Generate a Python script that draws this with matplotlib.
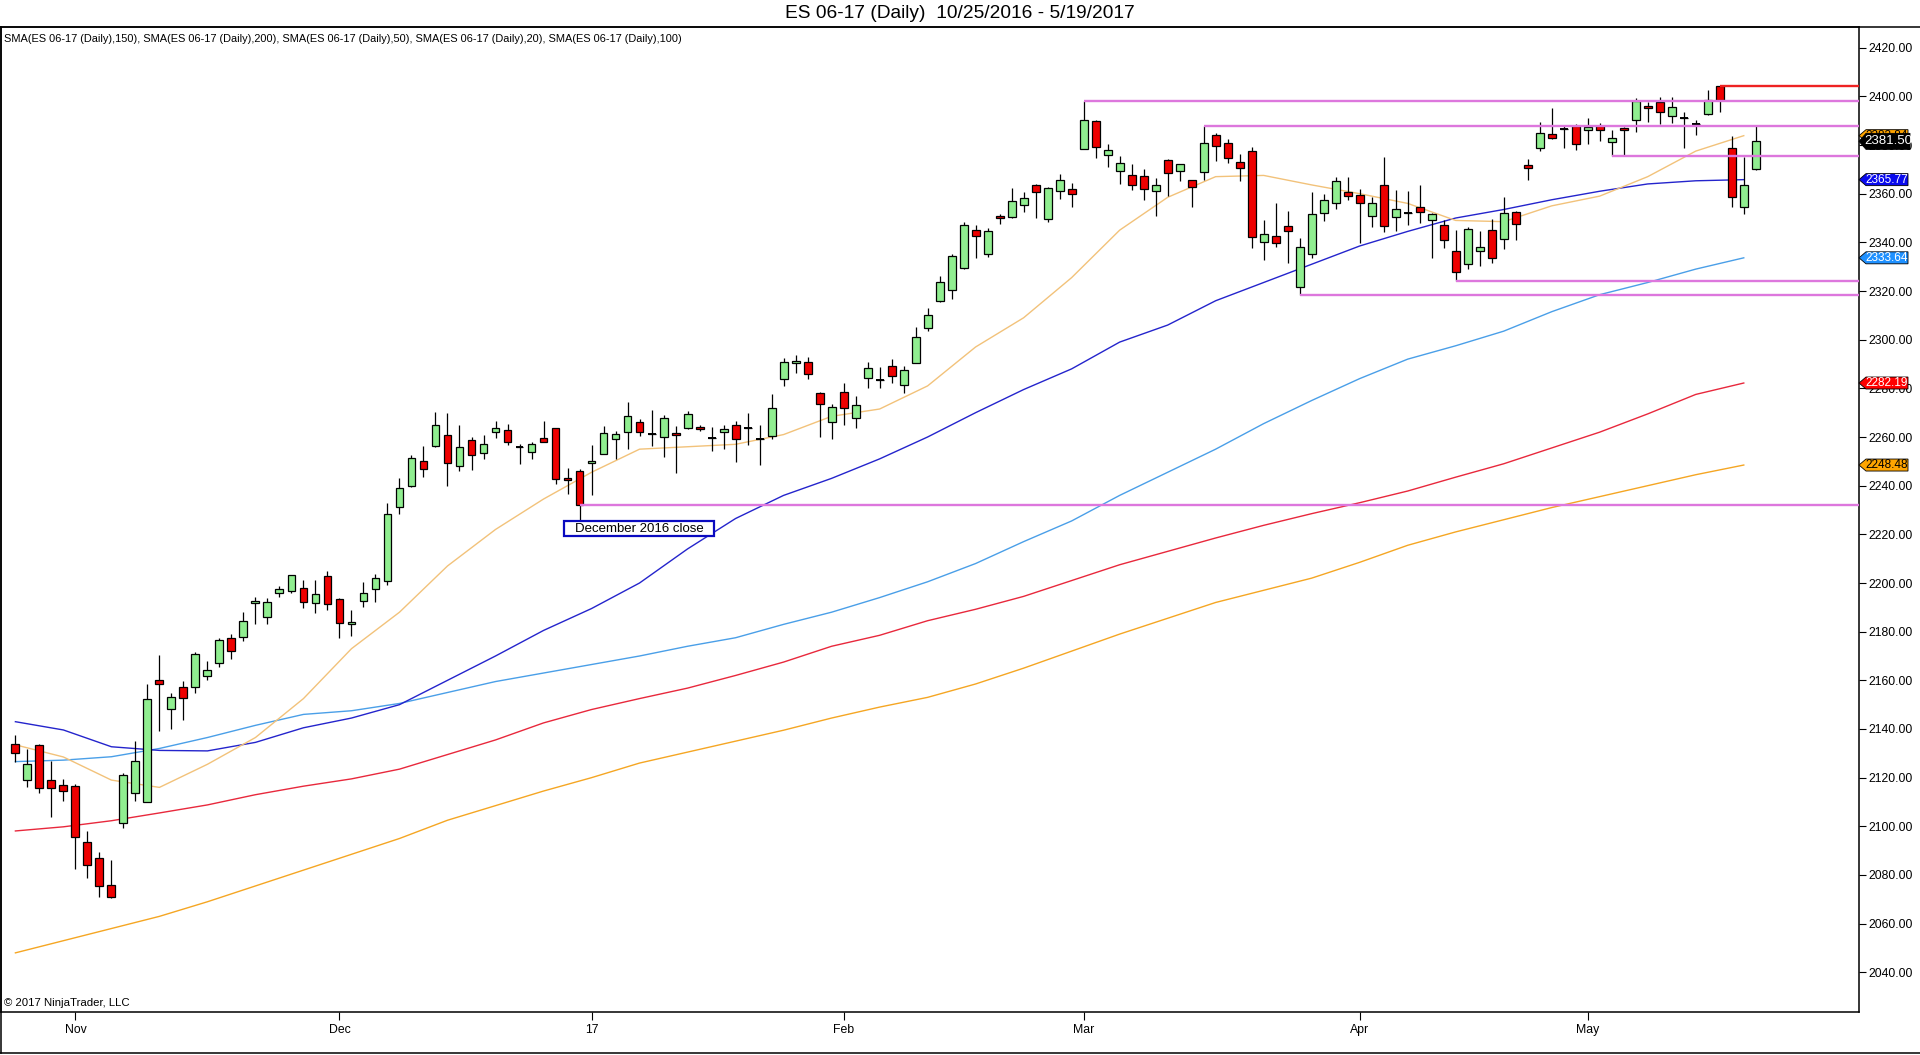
import matplotlib
matplotlib.use("Agg")
import matplotlib.pyplot as plt
import numpy as np
import pandas as pd
from matplotlib.patches import Polygon, Rectangle
from matplotlib.lines import Line2D
from matplotlib.transforms import IdentityTransform
from matplotlib.ticker import FormatStrFormatter

plt.rcParams['font.family'] = ['Liberation Sans', 'DejaVu Sans']

#### Data ####
# trading days 10/25/2016 - 5/19/2017 (exchange holidays removed)
holidays = ['2016-12-26', '2017-01-02', '2017-04-14']
dates = pd.bdate_range('2016-10-25', '2017-05-19')
dates = dates[~dates.isin(pd.to_datetime(holidays))]

opens = [2133.9, 2118.9, 2133.3, 2118.9, 2116.8, 2116.4, 2093.4, 2086.9, 2075.7, 2101.2,
         2113.8, 2110.0, 2160.0, 2148.1, 2157.1, 2157.1, 2161.9, 2167.0, 2177.2, 2177.9,
         2191.6, 2186.2, 2195.7, 2196.8, 2197.8, 2191.6, 2202.7, 2193.3, 2183.1, 2192.5,
         2197.7, 2201.0, 2231.4, 2239.9, 2250.0, 2256.4, 2260.7, 2247.9, 2258.6, 2253.3,
         2261.9, 2262.7, 2255.7, 2253.7, 2259.4, 2263.9, 2243.0, 2245.9, 2249.2, 2253.2,
         2259.0, 2261.9, 2266.0, 2261.2, 2260.1, 2261.5, 2263.8, 2264.2, 2259.4, 2261.9,
         2264.8, 2263.6, 2259.3, 2260.6, 2283.7, 2290.3, 2290.7, 2278.0, 2266.0, 2278.6,
         2267.7, 2284.1, 2283.6, 2289.3, 2281.2, 2290.6, 2304.9, 2316.0, 2320.6, 2329.6,
         2344.9, 2335.1, 2350.8, 2350.3, 2355.2, 2363.4, 2349.4, 2361.0, 2361.8, 2378.5,
         2389.7, 2375.8, 2369.2, 2367.5, 2367.1, 2361.0, 2373.7, 2369.2, 2365.5, 2368.8,
         2384.0, 2380.7, 2372.9, 2377.4, 2340.3, 2342.5, 2346.6, 2321.5, 2335.1, 2351.9,
         2356.0, 2360.6, 2359.3, 2350.7, 2363.6, 2350.6, 2352.2, 2354.4, 2349.1, 2347.0,
         2336.3, 2330.9, 2336.6, 2344.9, 2341.3, 2352.3, 2371.7, 2378.6, 2384.7, 2386.5,
         2388.0, 2386.0, 2387.7, 2381.4, 2387.0, 2390.1, 2395.9, 2397.5, 2391.8, 2391.2,
         2388.6, 2392.6, 2404.3, 2378.6, 2354.4, 2370.3]
highs = [2137.4, 2131.8, 2133.7, 2126.7, 2119.4, 2117.2, 2098.1, 2089.4, 2086.2, 2121.8,
         2135.1, 2158.5, 2170.4, 2154.8, 2159.7, 2171.6, 2167.8, 2177.2, 2179.0, 2188.1,
         2194.4, 2193.7, 2198.8, 2203.1, 2201.1, 2201.1, 2204.8, 2193.7, 2188.9, 2200.4,
         2203.7, 2232.9, 2243.0, 2252.6, 2256.3, 2270.1, 2269.7, 2264.9, 2259.9, 2260.8,
         2266.4, 2265.3, 2257.3, 2257.8, 2266.4, 2263.9, 2247.1, 2246.7, 2256.7, 2264.5,
         2262.6, 2274.5, 2267.3, 2271.1, 2268.9, 2264.5, 2270.8, 2264.8, 2264.2, 2264.9,
         2266.4, 2269.7, 2264.8, 2277.7, 2292.3, 2293.7, 2292.7, 2278.5, 2273.6, 2282.1,
         2277.0, 2291.0, 2288.6, 2291.9, 2289.0, 2305.1, 2312.9, 2326.2, 2335.2, 2348.4,
         2347.1, 2345.9, 2351.6, 2362.2, 2360.6, 2364.0, 2362.9, 2368.0, 2364.2, 2398.1,
         2390.1, 2380.4, 2375.5, 2372.2, 2370.1, 2366.4, 2374.2, 2372.1, 2365.5, 2387.8,
         2384.8, 2382.5, 2376.3, 2379.0, 2349.2, 2356.0, 2352.9, 2341.6, 2360.5, 2359.9,
         2366.7, 2366.7, 2361.9, 2358.5, 2375.2, 2361.5, 2361.1, 2363.6, 2352.2, 2349.2,
         2345.1, 2346.2, 2344.8, 2349.5, 2358.5, 2353.0, 2374.3, 2389.3, 2395.1, 2388.2,
         2388.5, 2391.0, 2389.2, 2386.2, 2387.5, 2399.2, 2397.8, 2399.9, 2399.9, 2393.4,
         2390.3, 2402.6, 2404.3, 2383.8, 2375.2, 2388.1]
lows = [2126.6, 2116.3, 2113.9, 2104.0, 2110.5, 2082.6, 2078.6, 2071.1, 2070.4, 2099.5,
        2110.5, 2110.0, 2139.3, 2140.1, 2143.8, 2154.6, 2160.1, 2165.6, 2168.9, 2176.3,
        2183.3, 2183.3, 2194.4, 2196.0, 2189.9, 2187.8, 2189.0, 2177.5, 2178.4, 2190.3,
        2192.3, 2199.2, 2228.5, 2239.6, 2243.7, 2256.0, 2240.0, 2246.2, 2246.6, 2251.1,
        2259.4, 2256.8, 2248.8, 2251.1, 2257.8, 2240.5, 2236.4, 2224.8, 2236.3, 2253.2,
        2251.1, 2255.2, 2260.6, 2256.3, 2251.9, 2245.3, 2263.1, 2262.5, 2254.4, 2255.2,
        2249.9, 2256.8, 2248.6, 2259.0, 2281.1, 2286.4, 2284.0, 2260.1, 2259.3, 2264.9,
        2263.8, 2280.0, 2280.3, 2282.3, 2277.9, 2290.6, 2303.7, 2315.6, 2316.7, 2329.2,
        2333.7, 2334.1, 2347.7, 2349.9, 2352.6, 2350.1, 2348.5, 2358.0, 2354.7, 2378.5,
        2374.8, 2371.1, 2364.1, 2361.6, 2357.5, 2351.0, 2359.0, 2365.3, 2354.6, 2365.6,
        2373.6, 2372.7, 2365.4, 2337.8, 2332.7, 2338.2, 2331.6, 2318.4, 2333.4, 2348.9,
        2353.8, 2357.4, 2339.9, 2346.4, 2344.4, 2344.7, 2347.1, 2347.8, 2333.4, 2337.6,
        2324.1, 2328.9, 2330.4, 2331.4, 2337.4, 2340.8, 2365.8, 2377.7, 2382.3, 2378.9,
        2378.1, 2380.6, 2381.8, 2375.6, 2375.9, 2385.2, 2389.6, 2388.8, 2389.2, 2378.9,
        2384.3, 2392.2, 2393.7, 2354.7, 2351.5, 2369.7]
closes = [2130.0, 2125.5, 2115.6, 2115.6, 2114.4, 2095.5, 2084.0, 2075.6, 2071.1, 2121.0,
          2126.7, 2152.2, 2158.3, 2153.0, 2152.6, 2170.7, 2164.1, 2176.4, 2171.9, 2184.4,
          2192.6, 2192.0, 2197.4, 2203.1, 2192.3, 2195.3, 2191.2, 2183.4, 2184.0, 2195.7,
          2201.9, 2228.2, 2238.9, 2251.2, 2247.0, 2264.8, 2249.2, 2255.7, 2252.5, 2257.0,
          2263.6, 2257.8, 2255.7, 2257.0, 2257.8, 2242.6, 2242.2, 2232.1, 2250.0, 2261.5,
          2261.1, 2268.5, 2261.9, 2261.2, 2267.7, 2260.7, 2269.3, 2263.1, 2259.4, 2263.1,
          2259.0, 2263.6, 2259.3, 2271.8, 2290.7, 2291.1, 2285.8, 2273.4, 2272.2, 2271.8,
          2273.0, 2288.2, 2283.6, 2284.9, 2287.4, 2300.9, 2310.0, 2323.6, 2334.2, 2347.0,
          2342.7, 2344.5, 2349.9, 2356.9, 2358.1, 2360.5, 2362.2, 2365.5, 2359.7, 2390.1,
          2379.0, 2377.8, 2372.5, 2363.4, 2361.8, 2363.4, 2368.4, 2372.1, 2362.9, 2380.7,
          2379.5, 2374.8, 2370.7, 2342.1, 2343.3, 2339.9, 2344.8, 2338.0, 2351.5, 2357.3,
          2365.1, 2358.9, 2356.0, 2356.3, 2346.6, 2353.6, 2352.2, 2352.6, 2351.5, 2340.8,
          2327.7, 2345.5, 2337.9, 2333.4, 2351.9, 2347.4, 2370.4, 2385.1, 2382.8, 2386.5,
          2380.6, 2387.3, 2386.0, 2382.7, 2386.0, 2398.1, 2395.1, 2393.4, 2395.5, 2391.2,
          2388.6, 2398.4, 2398.5, 2358.5, 2363.4, 2381.5]

# moving averages at these bar numbers (they stop one bar short)
sma_bars = [0, 4, 8, 12, 16, 20, 24, 28, 32, 36, 40, 44, 48, 52, 56, 60, 64, 68, 72, 76,
            80, 84, 88, 92, 96, 100, 104, 108, 112, 116, 120, 124, 128, 132, 136, 140, 144]
sma20 = [2133.5, 2128.5, 2119.0, 2116.0, 2125.5, 2136.5, 2152.5, 2173.0, 2188.0, 2207.0,
         2222.0, 2234.5, 2245.5, 2255.0, 2256.0, 2257.0, 2261.0, 2268.5, 2271.5, 2281.0,
         2297.0, 2309.0, 2325.5, 2345.0, 2358.5, 2367.0, 2367.5, 2363.6, 2360.0, 2356.0,
         2349.0, 2348.5, 2355.0, 2359.0, 2367.0, 2377.5, 2383.84]
sma50 = [2143.0, 2139.6, 2132.7, 2131.2, 2131.0, 2134.5, 2140.5, 2144.5, 2150.0, 2160.0,
         2170.0, 2180.5, 2189.5, 2200.0, 2214.0, 2226.5, 2236.0, 2243.0, 2251.0, 2260.0,
         2270.0, 2279.5, 2288.0, 2299.0, 2306.0, 2316.0, 2323.5, 2331.0, 2338.5, 2344.5,
         2350.0, 2353.5, 2357.5, 2361.0, 2364.0, 2365.3, 2365.77]
sma100 = [2126.6, 2127.2, 2128.6, 2132.0, 2136.5, 2141.5, 2146.0, 2147.5, 2150.5, 2155.0,
          2159.5, 2163.0, 2166.5, 2170.0, 2174.0, 2177.5, 2183.0, 2188.0, 2194.0, 2200.5,
          2208.0, 2217.0, 2225.5, 2236.0, 2245.5, 2255.0, 2265.5, 2275.0, 2284.0, 2292.0,
          2297.5, 2303.5, 2311.5, 2318.5, 2323.5, 2329.0, 2333.64]
sma150 = [2098.1, 2099.8, 2102.3, 2105.5, 2108.8, 2113.0, 2116.5, 2119.5, 2123.5, 2129.5,
          2135.5, 2142.5, 2148.0, 2152.5, 2156.8, 2162.0, 2167.5, 2174.0, 2178.5, 2184.5,
          2189.2, 2194.5, 2201.0, 2207.5, 2213.0, 2218.5, 2223.7, 2228.5, 2233.0, 2237.8,
          2243.5, 2249.0, 2255.5, 2262.0, 2269.5, 2277.5, 2282.19]
sma200 = [2048.0, 2053.0, 2058.0, 2063.0, 2069.0, 2075.5, 2082.0, 2088.5, 2095.0, 2102.5,
          2108.5, 2114.5, 2120.0, 2126.0, 2130.5, 2135.0, 2139.5, 2144.5, 2149.0, 2153.0,
          2158.5, 2165.0, 2172.0, 2179.0, 2185.5, 2192.0, 2197.0, 2202.0, 2208.5, 2215.5,
          2221.0, 2226.0, 2231.0, 2235.5, 2240.0, 2244.5, 2248.48]

# drawn support / resistance lines: (bar, which price, colour)
levels = [(89, 'high', '#DD77DD'), (99, 'high', '#DD77DD'), (133, 'low', '#DD77DD'),
          (120, 'low', '#DD77DD'), (107, 'low', '#DD77DD'), (47, 'close', '#DD77DD'),
          (142, 'high', '#EE2222')]

#### Figure ####
W, H = 1920, 1055
fig = plt.figure(figsize=(W / 100, H / 100), dpi=100)
fig.patch.set_facecolor('white')
ax = fig.add_axes([1 / W, 1 - 1011.5 / H, 1858 / W, (1011.5 - 27) / H])

o = np.array(opens)
h = np.array(highs)
l = np.array(lows)
c = np.array(closes)
x = np.arange(len(dates))

# moving averages
ax.plot(sma_bars, sma200, color='#F5A623', lw=1.0, zorder=1.5)
ax.plot(sma_bars, sma150, color='#E8283C', lw=1.0, zorder=1.5)
ax.plot(sma_bars, sma100, color='#4A9FE8', lw=1.0, zorder=1.5)
ax.plot(sma_bars, sma50, color='#2424CC', lw=1.0, zorder=1.5)
ax.plot(sma_bars, sma20, color='#F2C27A', lw=1.0, zorder=1.5)

# candles
ax.vlines(x, l, h, color='black', lw=0.9, zorder=2)
body_col = ['#90EE90' if cc > oo else '#EE0000' for oo, cc in zip(o, c)]
ax.bar(x, np.abs(c - o), bottom=np.minimum(o, c), width=0.66, color=body_col,
       edgecolor='black', linewidth=0.9, zorder=3)
doji = np.abs(c - o) < 0.3
ax.hlines(o[doji], x[doji] - 0.33, x[doji] + 0.33, color='black', lw=1.4, zorder=3)

xmax = 153.6
ax.set_xlim(-1.2, xmax)
ax.set_ylim(2023.9, 2428.5)

price_of = {'high': h, 'low': l, 'close': c}
for bar, which, col in levels:
    ax.hlines(price_of[which][bar], bar, xmax, color=col, lw=1.7, zorder=4)

# December 2016 close note
dec_bar = 47
ax.add_patch(Rectangle((dec_bar - 1.33, c[dec_bar] - 12.9), 12.57, 6.2,
                       facecolor='white', edgecolor='#0A0AC0', lw=1.6, zorder=5))
ax.text(dec_bar - 1.33 + 6.28, c[dec_bar] - 9.8, 'December 2016 close', fontsize=9.5,
        ha='center', va='center', zorder=6)

# axes styling
ax.yaxis.tick_right()
ax.set_yticks(np.arange(2040, 2421, 20))
ax.yaxis.set_major_formatter(FormatStrFormatter('%.2f'))
ax.tick_params(axis='y', direction='out', length=5, width=0.8, labelsize=8.8, pad=2)

month_idx = [i for i in range(1, len(dates)) if dates[i].month != dates[i - 1].month]
month_lab = [dates[i].strftime('%y') if dates[i].month == 1 else dates[i].strftime('%b')
             for i in month_idx]
ax.set_xticks(month_idx)
ax.set_xticklabels(month_lab)
ax.tick_params(axis='x', direction='out', length=6, width=0.8, labelsize=8.8, pad=3)
for s in ax.spines.values():
    s.set_linewidth(1.1)

# frame around the panel
fig.add_artist(Line2D([0, 1], [1 - 27 / H] * 2, transform=fig.transFigure, color='black', lw=1.1))
fig.add_artist(Line2D([0, 1], [1 - 1053 / H] * 2, transform=fig.transFigure, color='black', lw=1.1))
fig.add_artist(Line2D([0.5 / W] * 2, [1 - 1053 / H, 1 - 27 / H], transform=fig.transFigure,
                      color='black', lw=1.1))

# texts
fig.text(0.5, 1 - 14 / H, 'ES 06-17 (Daily)  10/25/2016 - 5/19/2017', ha='center',
         va='center', fontsize=13.8)
fig.text(4 / W, 1 - 39 / H, 'SMA(ES 06-17 (Daily),150), SMA(ES 06-17 (Daily),200), '
         'SMA(ES 06-17 (Daily),50), SMA(ES 06-17 (Daily),20), SMA(ES 06-17 (Daily),100)',
         ha='left', va='center', fontsize=7.9)
fig.text(4 / W, 1 - 1003 / H, '\u00a9 2017 NinjaTrader, LLC', ha='left', va='center',
         fontsize=8.2)

# value flags on the price axis
flags = [(sma20[-1], '#FFA500', 'black', 6),
         (sma200[-1], '#FFA500', 'black', 6),
         (sma150[-1], '#FF0000', 'white', 6),
         (sma100[-1], '#1E90FF', 'white', 6),
         (sma50[-1], '#0A0AEE', 'white', 6),
         (closes[-1], 'black', 'white', 8)]
for i, (val, fc, tc, hh) in enumerate(flags):
    yp = ax.transData.transform((0, val))[1]
    right = 1908 if hh == 6 else 1910
    pts = [(1859, yp), (1866, yp + hh), (right, yp + hh), (right, yp - hh), (1866, yp - hh)]
    fig.add_artist(Polygon(pts, closed=True, facecolor=fc, edgecolor='black', lw=0.6,
                           transform=IdentityTransform(), zorder=10 + 2 * i))
    fig.text((1866 + right) / 2 / W, yp / H, '%.2f' % val, color=tc, ha='center', va='center',
             fontsize=9.5 if hh == 8 else 8.5, zorder=11 + 2 * i)

fig.savefig('out.png', dpi=100)
